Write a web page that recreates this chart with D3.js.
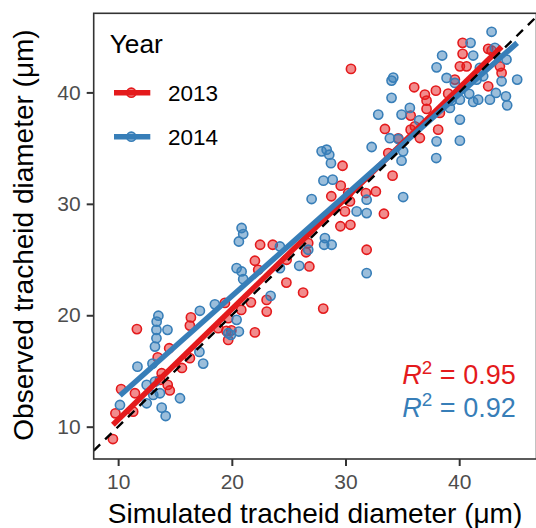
<!DOCTYPE html>
<html>
<head>
<meta charset="utf-8">
<script src="https://cdn.jsdelivr.net/npm/d3@7"></script>
<style>
  html, body { margin: 0; padding: 0; background: #fff; }
  svg { display: block; font-family: "Liberation Sans", Arial, Helvetica, sans-serif; }
</style>
</head>
<body>
<svg id="chart" width="536" height="528"></svg>
<script>
// Simulated vs observed tracheid diameter (µm), per sampling year
const years = ["2013", "2014"];
const seriesColors = ["#E41A1C", "#377EB8"];
const r2Labels = ["0.95", "0.92"];

const sim2013 = [9.54, 9.76, 10.26, 11.32, 11.48, 11.65, 13.48, 13.83, 13.68, 14.36, 14.54, 14.49, 15.61, 16.31,
  16.40, 16.31, 18.80, 19.39, 19.68, 19.96, 19.68, 19.52, 20.83, 21.68, 22.03, 22.03, 22.32, 22.49, 23.60, 23.06,
  23.07, 24.82, 24.80, 26.27, 26.82, 26.53, 26.72, 28.04, 28.75, 29.55, 30.43, 29.74, 29.58, 30.24, 30.39, 29.95,
  31.79, 32.67, 33.38, 31.86, 34.14, 33.76, 33.47, 34.64, 35.73, 35.73, 36.10, 36.54, 37.13, 36.04, 36.98, 37.13,
  37.95, 38.30, 38.15, 39.03, 39.62, 40.06, 40.65, 40.30, 40.30, 42.55, 42.85, 43.58, 43.73, 42.55, 30.48];
const obs2013 = [8.89, 11.20, 13.37, 11.35, 13.00, 18.76, 16.22, 14.80, 14.20, 13.75, 13.25, 17.04, 15.27, 16.15,
  19.81, 19.07, 18.84, 21.11, 19.74, 18.64, 17.79, 18.60, 20.48, 21.16, 18.46, 24.89, 24.08, 26.33, 26.33, 21.38,
  20.33, 24.98, 22.93, 22.04, 24.38, 25.65, 26.48, 20.60, 30.68, 27.99, 28.12, 33.42, 31.63, 30.97, 30.22, 29.32,
  30.97, 31.11, 29.11, 25.88, 32.53, 34.56, 36.72, 35.88, 37.92, 36.66, 36.95, 35.91, 38.52, 40.46, 39.80, 39.26,
  40.16, 38.16, 36.66, 39.89, 41.15, 42.34, 42.34, 43.46, 44.45, 43.91, 43.76, 42.34, 41.75, 40.55, 42.11];

const sim2014 = [10.16, 11.70, 12.51, 12.51, 13.24, 13.09, 13.68, 13.02, 13.24, 13.37, 13.37, 14.34, 13.39, 13.54,
  13.83, 14.18, 15.44, 17.19, 18.51, 17.15, 17.48, 20.42, 19.92, 20.62, 19.68, 20.42, 20.86, 21.00, 20.62, 21.00,
  20.86, 23.41, 24.23, 24.23, 25.93, 26.72, 27.02, 28.19, 28.12, 28.78, 31.86, 27.90, 28.34, 28.57, 28.72, 28.06,
  28.87, 31.86, 30.98, 31.86, 35.07, 32.30, 32.88, 34.05, 34.20, 34.05, 35.66, 34.93, 36.48, 33.90, 34.64, 35.07,
  34.93, 38.01, 37.98, 40.06, 40.06, 39.18, 38.01, 38.50, 38.89, 39.62, 39.33, 40.06, 40.88, 41.23, 41.67, 42.70,
  43.23, 44.11, 44.22, 41.53, 42.11, 43.73, 45.10, 41.82, 44.16, 41.23, 41.00, 43.14, 42.85];
const obs2014 = [11.95, 15.39, 12.10, 13.75, 14.04, 12.85, 13.00, 15.66, 17.19, 17.94, 18.69, 18.69, 19.43, 19.96,
  11.71, 10.96, 12.55, 20.40, 20.98, 16.71, 15.66, 19.59, 18.24, 18.54, 18.39, 24.23, 23.93, 23.24, 26.62, 27.29,
  27.83, 21.74, 26.17, 24.23, 24.44, 25.88, 30.43, 26.93, 26.33, 26.33, 23.78, 34.71, 34.86, 34.41, 33.65, 32.08,
  32.17, 30.37, 29.32, 29.17, 30.61, 35.10, 38.01, 39.51, 41.33, 41.06, 38.61, 38.01, 37.49, 35.89, 35.82, 34.71,
  33.87, 35.61, 34.11, 35.67, 37.56, 38.61, 42.25, 43.31, 41.30, 40.85, 39.26, 39.35, 39.87, 39.15, 39.35, 39.35,
  39.95, 39.65, 38.84, 41.15, 41.45, 41.00, 41.15, 42.20, 42.95, 43.31, 44.45, 44.00, 45.44];

const xTicks = [10, 20, 30, 40];
const yTicks = [10, 20, 30, 40];

const series = [
  { year: years[0], color: seriesColors[0], r2: r2Labels[0], pts: sim2013.map((x, i) => ({ x, y: obs2013[i] })) },
  { year: years[1], color: seriesColors[1], r2: r2Labels[1], pts: sim2014.map((x, i) => ({ x, y: obs2014[i] })) }
];

// ordinary least-squares fit for each year
function fitLine(pts) {
  const mx = d3.mean(pts, d => d.x), my = d3.mean(pts, d => d.y);
  const sxy = d3.sum(pts, d => (d.x - mx) * (d.y - my));
  const sxx = d3.sum(pts, d => (d.x - mx) ** 2);
  const b = sxy / sxx, a = my - b * mx;
  const [x0, x1] = d3.extent(pts, d => d.x);
  return [{ x: x0, y: a + b * x0 }, { x: x1, y: a + b * x1 }];
}

const svg = d3.select("#chart");
const panel = { left: 93.7, top: 13.3, right: 536.5, bottom: 459 };

const x = d3.scaleLinear().domain([7.85, 46.8]).range([panel.left, panel.right]);
const y = d3.scaleLinear().domain([7.1, 47.1]).range([panel.bottom, panel.top]);

const clipId = "panel-clip";
svg.append("defs").append("clipPath").attr("id", clipId)
  .append("rect")
  .attr("x", panel.left).attr("y", panel.top)
  .attr("width", panel.right - panel.left).attr("height", panel.bottom - panel.top);

const plot = svg.append("g").attr("clip-path", `url(#${clipId})`);

// points
series.forEach(s => {
  plot.append("g").selectAll("circle").data(s.pts).join("circle")
    .attr("cx", d => x(d.x)).attr("cy", d => y(d.y)).attr("r", 4.6)
    .attr("fill", s.color).attr("fill-opacity", 0.5)
    .attr("stroke", s.color).attr("stroke-width", 1.6);
});

// regression lines
const line = d3.line().x(d => x(d.x)).y(d => y(d.y));
series.forEach(s => {
  plot.append("path").datum(fitLine(s.pts)).attr("d", line)
    .attr("fill", "none").attr("stroke", s.color).attr("stroke-width", 5.5);
});

// 1:1 line
plot.append("path")
  .datum([{ x: x.domain()[0], y: x.domain()[0] }, { x: x.domain()[1], y: x.domain()[1] }])
  .attr("d", line).attr("fill", "none")
  .attr("stroke", "#000").attr("stroke-width", 2.4).attr("stroke-dasharray", "9,7");

// axes
const xAxis = svg.append("g").attr("transform", `translate(0,${panel.bottom})`)
  .call(d3.axisBottom(x).tickValues(xTicks).tickSize(7).tickPadding(8));
const yAxis = svg.append("g").attr("transform", `translate(${panel.left},0)`)
  .call(d3.axisLeft(y).tickValues(yTicks).tickSize(7).tickPadding(6));
[xAxis, yAxis].forEach(g => {
  g.select(".domain").remove();
  g.selectAll(".tick line").attr("stroke", "#333").attr("stroke-width", 2);
  g.selectAll(".tick text").attr("fill", "#4D4D4D").attr("font-size", 21)
    .attr("font-family", "'Liberation Sans', Arial, sans-serif");
});

// panel border
svg.append("rect")
  .attr("x", panel.left).attr("y", panel.top)
  .attr("width", panel.right - panel.left).attr("height", panel.bottom - panel.top)
  .attr("fill", "none").attr("stroke", "#333").attr("stroke-width", 1.6);

// axis titles
svg.append("text").attr("x", 315).attr("y", 523).attr("text-anchor", "middle")
  .attr("font-size", 28).attr("fill", "#000").text("Simulated tracheid diameter (\u03bcm)");
svg.append("text").attr("transform", "translate(33,235) rotate(-90)").attr("text-anchor", "middle")
  .attr("font-size", 28).attr("fill", "#000").text("Observed tracheid diameter (\u03bcm)");

// legend
const legend = svg.append("g");
legend.append("text").attr("x", 109.7).attr("y", 52.7).attr("font-size", 26.3).attr("fill", "#000").text("Year");
const keyY = [92.7, 136.7];
series.forEach((s, i) => {
  legend.append("line").attr("x1", 114).attr("x2", 150.3).attr("y1", keyY[i]).attr("y2", keyY[i])
    .attr("stroke", s.color).attr("stroke-width", 5.5);
  legend.append("circle").attr("cx", 131.3).attr("cy", keyY[i]).attr("r", 4.6)
    .attr("fill", s.color).attr("fill-opacity", 0.5).attr("stroke", s.color).attr("stroke-width", 1.6);
  legend.append("text").attr("x", 168).attr("y", keyY[i] + 8).attr("font-size", 22.5).attr("fill", "#000")
    .text(s.year);
});

// R² annotations
const r2Y = [384.3, 416.7];
series.forEach((s, i) => {
  const t = svg.append("text").attr("x", 515.7).attr("y", r2Y[i]).attr("text-anchor", "end")
    .attr("font-size", 27).attr("fill", s.color);
  t.append("tspan").attr("font-style", "italic").text("R");
  t.append("tspan").attr("font-size", "0.7em").attr("dy", "-0.55em").text("2");
  t.append("tspan").attr("dy", "0.385em").text(" = " + s.r2);
});
</script>
</body>
</html>
